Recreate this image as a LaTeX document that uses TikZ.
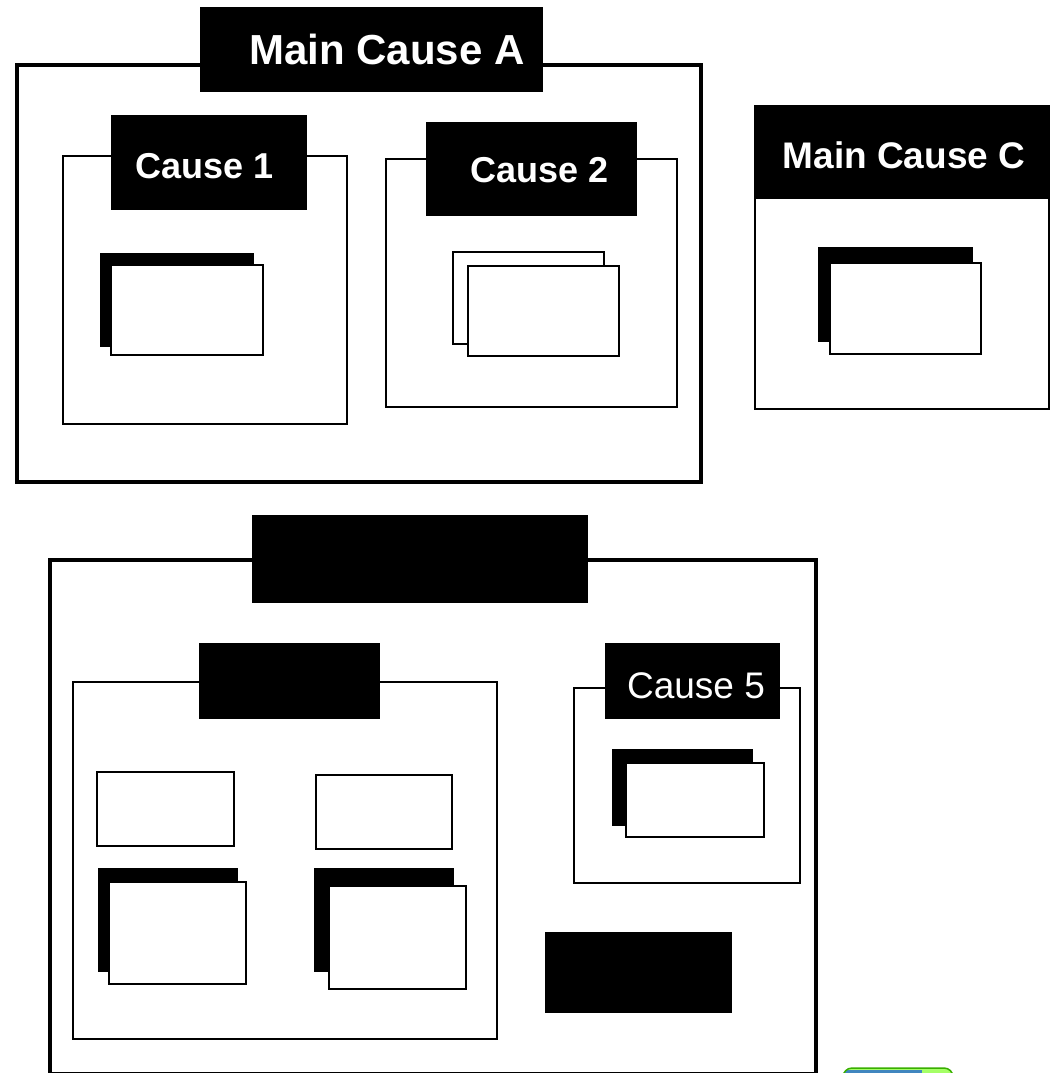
\documentclass[tikz,border=0pt]{standalone}
\usepackage{fontspec}
\setmainfont{Liberation Sans}
% \rectnode{name}{style}{x1}{y1}{x2}{y2}: a rectangle node spanning the given corners
\newcommand\rectnode[6]{%
  \node[#2, minimum width={#5pt-#3pt}, minimum height={#6pt-#4pt}] (#1) at ({(#3+#5)/2},{(#4+#6)/2}) {};}
\begin{document}
\begin{tikzpicture}[x=1pt,y=-1pt,
  frame/.style={draw=black, fill=white, line width=2pt, inner sep=0pt, outer sep=0pt},
  bigframe/.style={frame, line width=4pt},
  tab/.style={fill=black, inner sep=0pt, outer sep=0pt},
  card/.style={draw=black, fill=white, line width=2pt, inner sep=0pt, outer sep=0pt},
  backcard/.style={fill=black, inner sep=0pt, outer sep=0pt},
  caption/.style={text=white, inner sep=0pt, anchor=base},
]
\useasboundingbox (0,0) rectangle (1052,1073);
\clip (0,0) rectangle (1052,1073);
\fill[white] (0,0) rectangle (1052,1073);

% ---- Main Cause A ----
\rectnode{mainA}{bigframe}{17}{65}{701}{482}
\rectnode{tabA}{tab}{200}{7}{543}{92}
\rectnode{c1}{frame}{63}{156}{347}{424}
\rectnode{tab1}{tab}{111}{115}{307}{210}
\rectnode{c1back}{backcard}{100}{253}{254}{347}
\rectnode{c1card}{card}{111}{265}{263}{355}
\rectnode{c2}{frame}{386}{159}{677}{407}
\rectnode{tab2}{tab}{426}{122}{637}{216}
\rectnode{c2back}{card}{453}{252}{604}{344}
\rectnode{c2card}{card}{468}{266}{619}{356}

% ---- Main Cause C ----
\rectnode{mainC}{frame}{755}{106}{1049}{409}
\rectnode{tabC}{tab}{754}{105}{1050}{199}
\rectnode{cCback}{backcard}{818}{247}{973}{342}
\rectnode{cCcard}{card}{830}{263}{981}{354}

% ---- lower group ----
\rectnode{mainB}{bigframe}{50}{560}{816}{1074}
\rectnode{tabB}{tab}{252}{515}{588}{603}
\rectnode{c4}{frame}{73}{682}{497}{1039}
\rectnode{tab4}{tab}{199}{643}{380}{719}
\rectnode{c4a}{card}{97}{772}{234}{846}
\rectnode{c4b}{card}{316}{775}{452}{849}
\rectnode{c4cback}{backcard}{98}{868}{238}{972}
\rectnode{c4c}{card}{109}{882}{246}{984}
\rectnode{c4dback}{backcard}{314}{868}{454}{972}
\rectnode{c4d}{card}{329}{886}{466}{989}
\rectnode{c5}{frame}{574}{688}{800}{883}
\rectnode{tab5}{tab}{605}{643}{780}{719}
\rectnode{c5back}{backcard}{612}{749}{753}{826}
\rectnode{c5card}{card}{626}{763}{764}{837}
\rectnode{c6}{tab}{545}{932}{732}{1013}

% ---- captions ----
\node[caption, font=\bfseries\fontsize{42}{50}\selectfont] (lblA) at (387,64) {Main Cause A};
\node[caption, font=\bfseries\fontsize{36}{44}\selectfont] (lbl1) at (205,178) {Cause 1};
\node[caption, font=\bfseries\fontsize{36}{44}\selectfont] (lbl2) at (540,182) {Cause 2};
\node[caption, font=\bfseries\fontsize{37}{44}\selectfont] (lblC) at (904,168) {Main Cause C};
\node[caption, font=\fontsize{37}{44}\selectfont] (lbl5) at (696,698) {Cause 5};

% ---- small button at the lower edge ----
\begin{scope}
  \clip[rounded corners=9pt] (843,1068) rectangle (953,1100);
  \fill[green!45!lime!60!white] (843,1068) rectangle (953,1100);
  \fill[blue!45!cyan!50!gray] (845,1070) rectangle (922,1100);
\end{scope}
\draw[green!55!black!70!lime, line width=1.5pt, rounded corners=9pt] (843,1068) rectangle (953,1100);
\end{tikzpicture}
\end{document}
